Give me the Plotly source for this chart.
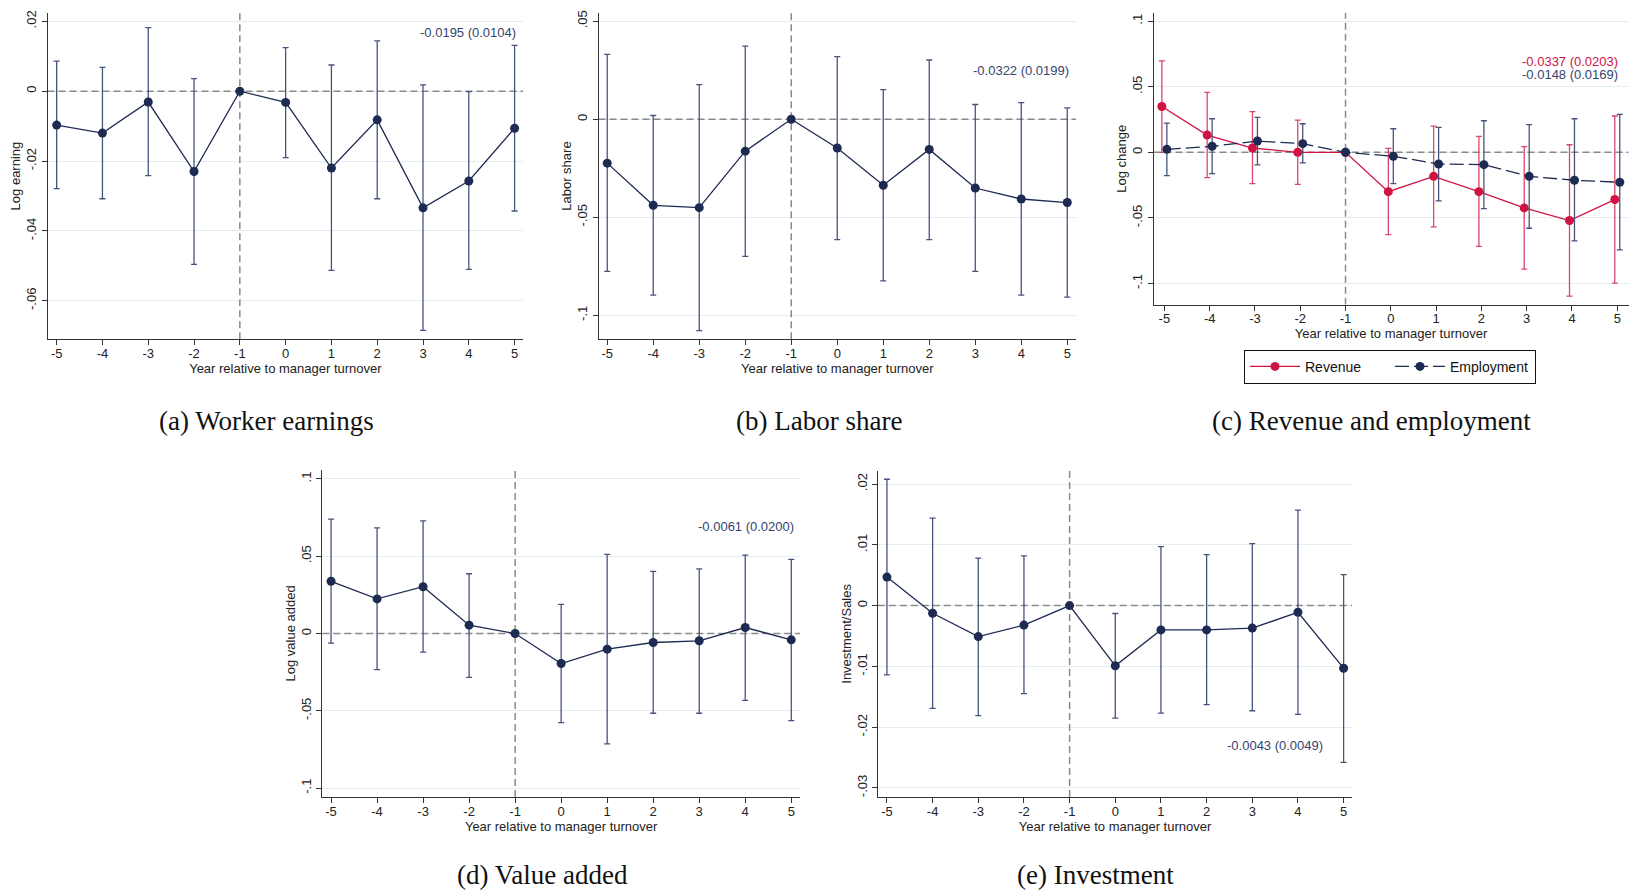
import plotly.graph_objects as go

# ---------------- data ----------------
years = [-5, -4, -3, -2, -1, 0, 1, 2, 3, 4, 5]
x_tick_labels = ["-5", "-4", "-3", "-2", "-1", "0", "1", "2", "3", "4", "5"]

# (a) Worker earnings
earn_pt = [-0.0097, -0.0120, -0.0031, -0.0230, 0.0, -0.0032, -0.0220, -0.0082, -0.0334, -0.0257, -0.0106]
earn_hi = [0.0086, 0.0068, 0.0182, 0.0036, None, 0.0125, 0.0075, 0.0144, 0.0018, -0.0001, 0.0131]
earn_lo = [-0.0279, -0.0308, -0.0242, -0.0496, None, -0.0190, -0.0513, -0.0308, -0.0685, -0.0510, -0.0343]
earn_yticks = [0.02, 0.0, -0.02, -0.04, -0.06]
earn_yticklabels = [".02", "0", "-.02", "-.04", "-.06"]

# (b) Labor share
ls_pt = [-0.0224, -0.0439, -0.0451, -0.0163, 0.0, -0.0147, -0.0337, -0.0154, -0.0351, -0.0407, -0.0425]
ls_hi = [0.0331, 0.0019, 0.0176, 0.0373, None, 0.0319, 0.0151, 0.0302, 0.0075, 0.0085, 0.0058]
ls_lo = [-0.0776, -0.0897, -0.1078, -0.0700, None, -0.0614, -0.0825, -0.0614, -0.0776, -0.0897, -0.0908]
ls_yticks = [0.05, 0.0, -0.05, -0.1]
ls_yticklabels = [".05", "0", "-.05", "-.1"]

# (c) Revenue and employment
rev_pt = [0.0350, 0.0132, 0.0033, 0.0, 0.0, -0.0300, -0.0183, -0.0300, -0.0424, -0.0520, -0.0360]
rev_hi = [0.0698, 0.0457, 0.0310, 0.0246, None, 0.0030, 0.0200, 0.0122, 0.0043, 0.0058, 0.0277]
rev_lo = [0.0000, -0.0193, -0.0239, -0.0244, None, -0.0627, -0.0569, -0.0718, -0.0891, -0.1096, -0.0997]
emp_pt = [0.0023, 0.0046, 0.0086, 0.0066, 0.0, -0.0030, -0.0089, -0.0094, -0.0183, -0.0213, -0.0228]
emp_hi = [0.0223, 0.0256, 0.0267, 0.0218, None, 0.0180, 0.0190, 0.0241, 0.0211, 0.0256, 0.0289]
emp_lo = [-0.0178, -0.0162, -0.0096, -0.0081, None, -0.0239, -0.0370, -0.0429, -0.0579, -0.0675, -0.0744]
rc_yticks = [0.1, 0.05, 0.0, -0.05, -0.1]
rc_yticklabels = [".1", ".05", "0", "-.05", "-.1"]

# (d) Value added
va_pt = [0.0338, 0.0224, 0.0303, 0.0054, 0.0, -0.0194, -0.0101, -0.0058, -0.0047, 0.0039, -0.0041]
va_hi = [0.0740, 0.0684, 0.0729, 0.0387, None, 0.0189, 0.0512, 0.0402, 0.0419, 0.0508, 0.0480]
va_lo = [-0.0062, -0.0234, -0.0120, -0.0284, None, -0.0576, -0.0714, -0.0516, -0.0516, -0.0432, -0.0563]
va_yticks = [0.1, 0.05, 0.0, -0.05, -0.1]
va_yticklabels = [".1", ".05", "0", "-.05", "-.1"]

# (e) Investment
inv_pt = [0.0047, -0.00126, -0.0051, -0.0032, 0.0, -0.0099, -0.0040, -0.0040, -0.0037, -0.0011, -0.0103]
inv_hi = [0.0208, 0.0144, 0.0078, 0.0082, None, -0.0013, 0.0097, 0.0084, 0.0102, 0.0157, 0.0051]
inv_lo = [-0.0114, -0.0169, -0.0181, -0.0145, None, -0.0185, -0.0177, -0.0163, -0.0173, -0.0179, -0.0258]
inv_yticks = [0.02, 0.01, 0.0, -0.01, -0.02, -0.03]
inv_yticklabels = [".02", ".01", "0", "-.01", "-.02", "-.03"]

captions = ["(a) Worker earnings", "(b) Labor share", "(c) Revenue and employment",
            "(d) Value added", "(e) Investment"]
y_titles = ["Log earning", "Labor share", "Log change", "Log value added", "Investment/Sales"]
x_title = "Year relative to manager turnover"
coef_text = ["-0.0195 (0.0104)", "-0.0322 (0.0199)", "-0.0337 (0.0203)", "-0.0148 (0.0169)",
             "-0.0061 (0.0200)", "-0.0043 (0.0049)"]
series_names = ["Revenue", "Employment"]
event_year = -1      # vertical reference line
zero_level = 0.0     # horizontal reference line

# ---------------- style ----------------
W, H = 1631, 893
NAVY = "#1d2a52"
NAVY_ERR = "#45547c"
RED = "#cf1444"
RED_ERR = "#d9486b"
TXT_NAVY = "#34446f"
GRID = "#e5edf0"
REF = "#8a8a8a"
SANS = "Liberation Sans, Arial, sans-serif"
SERIF = "Liberation Serif, DejaVu Serif, serif"


def px_dom(x0, x1, y0, y1):
    return [x0 / W, x1 / W], [1 - y1 / H, 1 - y0 / H]


panels = [
    dict(dom=px_dom(47.5, 523.3, 10, 337.3), xr=[-5.2, 5.19], yr=[-0.071, 0.0224],
         yt=earn_yticks, ytl=earn_yticklabels),
    dict(dom=px_dom(598.5, 1076, 10, 337.3), xr=[-5.19, 5.19], yr=[-0.1122, 0.0542],
         yt=ls_yticks, ytl=ls_yticklabels),
    dict(dom=px_dom(1153.5, 1628.6, 10, 302.7), xr=[-5.24, 5.25], yr=[-0.1162, 0.1063],
         yt=rc_yticks, ytl=rc_yticklabels),
    dict(dom=px_dom(322.3, 800, 468.3, 796.7), xr=[-5.19, 5.19], yr=[-0.1058, 0.106],
         yt=va_yticks, ytl=va_yticklabels),
    dict(dom=px_dom(877.8, 1352.3, 469.3, 796.7), xr=[-5.2, 5.19], yr=[-0.0315, 0.0222],
         yt=inv_yticks, ytl=inv_yticklabels),
]

fig = go.Figure()

# reference lines as traces (drawn above gridlines, below data)
for i, p in enumerate(panels):
    sfx = "" if i == 0 else str(i + 1)
    fig.add_trace(go.Scatter(x=p["xr"], y=[zero_level, zero_level], mode="lines",
                             xaxis="x" + sfx, yaxis="y" + sfx, showlegend=False, hoverinfo="skip",
                             line=dict(color=REF, width=1.5, dash="7px,4px")))
    fig.add_trace(go.Scatter(x=[event_year, event_year], y=p["yr"], mode="lines",
                             xaxis="x" + sfx, yaxis="y" + sfx, showlegend=False, hoverinfo="skip",
                             line=dict(color=REF, width=1.5, dash="7px,4px")))


def errs(pt, lo, hi):
    up = [(h - p) if h is not None else 0 for p, h in zip(pt, hi)]
    dn = [(p - l) if l is not None else 0 for p, l in zip(pt, lo)]
    return up, dn


def add_series(i, xs, pt, lo, hi, color, ecolor, dash="solid", name=None, show=False):
    up, dn = errs(pt, lo, hi)
    sfx = "" if i == 0 else str(i + 1)
    fig.add_trace(go.Scatter(
        x=xs, y=pt, mode="lines+markers", name=name, showlegend=show,
        xaxis="x" + sfx, yaxis="y" + sfx,
        line=dict(color=color, width=1.3, dash=dash),
        marker=dict(color=color, size=9),
        error_y=dict(type="data", symmetric=False, array=up, arrayminus=dn,
                     color=ecolor, thickness=1.3, width=3),
    ))


add_series(0, years, earn_pt, earn_lo, earn_hi, NAVY, NAVY_ERR)
add_series(1, years, ls_pt, ls_lo, ls_hi, NAVY, NAVY_ERR)
off = 0.055
rev_x = [y - off if y != -1 else y for y in years]
emp_x = [y + off if y != -1 else y for y in years]
add_series(2, rev_x, rev_pt, rev_lo, rev_hi, RED, RED_ERR, name=series_names[0], show=True)
add_series(2, emp_x, emp_pt, emp_lo, emp_hi, NAVY, NAVY_ERR, dash="14px,5px", name=series_names[1], show=True)
add_series(3, years, va_pt, va_lo, va_hi, NAVY, NAVY_ERR)
add_series(4, years, inv_pt, inv_lo, inv_hi, NAVY, NAVY_ERR)

layout = dict(
    width=W, height=H, margin=dict(l=0, r=0, t=0, b=0),
    paper_bgcolor="white", plot_bgcolor="white",
    font=dict(family=SANS, size=13, color="#222"),
    showlegend=True,
    legend=dict(orientation="h", x=1390 / W, xanchor="center", y=1 - 348 / H, yanchor="top",
                bordercolor="#111", borderwidth=1, font=dict(family=SANS, size=14, color="#111"),
                itemwidth=50, entrywidth=80, entrywidthmode="pixels",
                bgcolor="white"),
)

annotations = []
for i, p in enumerate(panels):
    sfx = "" if i == 0 else str(i + 1)
    xd, yd = p["dom"]
    layout["xaxis" + sfx] = dict(
        domain=xd, range=p["xr"], anchor="y" + sfx,
        tickmode="array", tickvals=years, ticktext=x_tick_labels,
        ticks="outside", ticklen=5, tickcolor="#333", tickwidth=1, ticklabelstandoff=-3,
        showline=True, linecolor="#333", linewidth=1, showgrid=False, zeroline=False,
        title=dict(text=x_title, standoff=0, font=dict(size=13, color="#222")),
        tickfont=dict(size=13, color="#222"), fixedrange=True,
    )
    layout["yaxis" + sfx] = dict(
        domain=yd, range=p["yr"], anchor="x" + sfx,
        tickmode="array", tickvals=p["yt"], ticktext=p["ytl"], tickangle=-90,
        ticks="outside", ticklen=5, tickcolor="#333", tickwidth=1,
        showline=True, linecolor="#333", linewidth=1,
        showgrid=True, gridcolor=GRID, gridwidth=1, zeroline=False,
        title=dict(text=y_titles[i], standoff=0, font=dict(size=13, color="#222")),
        tickfont=dict(size=13, color="#222"), fixedrange=True,
    )

coef_pos = [(0, 5.08, 0.0167, TXT_NAVY), (1, 5.09, 0.0246, TXT_NAVY),
            (2, 5.07, 0.0693, RED), (2, 5.07, 0.0591, TXT_NAVY),
            (3, 5.10, 0.0692, TXT_NAVY), (4, 4.60, -0.0231, TXT_NAVY)]
for (i, xv, yv, col), txt in zip(coef_pos, coef_text):
    sfx = "" if i == 0 else str(i + 1)
    annotations.append(dict(x=xv, y=yv, xref="x" + sfx, yref="y" + sfx, text=txt,
                            showarrow=False, xanchor="right", yanchor="middle",
                            font=dict(family=SANS, size=13, color=col)))

cap_pos = [(266, 419), (819, 419), (1371, 419), (542, 875), (1095, 875)]
for (cx, cy), txt in zip(cap_pos, captions):
    annotations.append(dict(x=cx / W, y=1 - cy / H, xref="paper", yref="paper", text=txt,
                            showarrow=False, xanchor="center", yanchor="middle",
                            font=dict(family=SERIF, size=27, color="#111")))

layout["annotations"] = annotations
fig.update_layout(**layout)

fig.write_html("out.html", config={"displayModeBar": False},
               post_script="document.body.style.margin='0';document.body.style.overflow='hidden';")
